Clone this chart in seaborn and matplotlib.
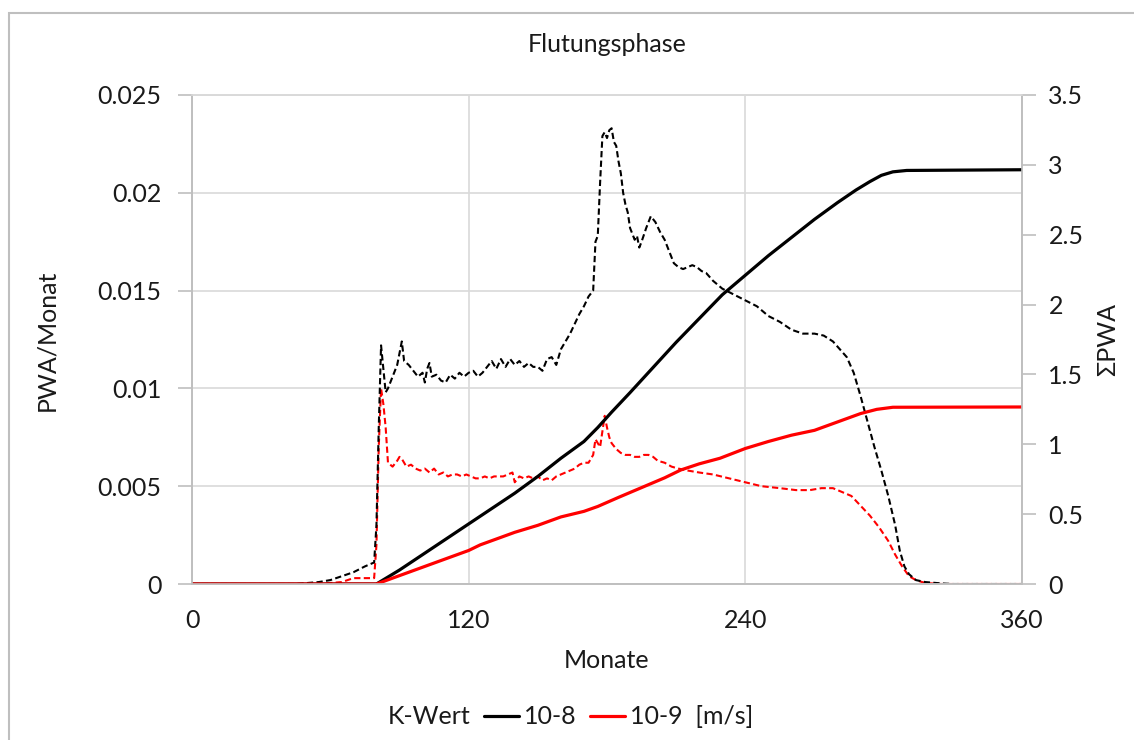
import numpy as np
import pandas as pd
import matplotlib
matplotlib.use("Agg")
import matplotlib.pyplot as plt
import seaborn as sns
from matplotlib.lines import Line2D
from matplotlib.patches import Rectangle

# ---------------- data ----------------
# PWA/Monat, K = 1e-8 (dashed black, left axis)
m_b8 = [0, 45, 50, 55, 60, 65, 70, 75, 79, 80, 81, 82, 83, 84, 85, 87, 89, 90, 91, 92, 94, 96, 98,
        100, 101, 102, 103, 104, 106, 108, 110, 112, 114, 116, 118, 120, 122, 124, 126, 128, 130,
        132, 134, 136, 138, 140, 142, 144, 146, 148, 150, 152, 154, 156, 158, 160, 162, 164, 166,
        168, 170, 172, 174, 175, 176, 177, 178, 179, 180, 181, 182, 183, 184, 185, 186, 187, 188,
        189, 190, 191, 192, 193, 194, 195, 197, 199, 201, 203, 205, 207, 209, 211, 213, 215, 217,
        219, 221, 223, 226, 230, 235, 240, 245, 250, 255, 260, 265, 270, 274, 278, 281, 284, 287,
        290, 293, 296, 299, 302, 305, 307, 309, 311, 314, 318, 325, 330, 360]
pwa_8 = [0, 0, 0.00005, 0.0001, 0.0002, 0.0004, 0.0006, 0.0009, 0.0011, 0.0030, 0.0080, 0.0122,
         0.0110, 0.0098, 0.0100, 0.0106, 0.0112, 0.0118, 0.0124, 0.0114, 0.0112, 0.0109, 0.0106,
         0.0108, 0.0103, 0.0110, 0.0113, 0.0106, 0.0107, 0.0104, 0.0103, 0.0107, 0.0105, 0.0108,
         0.0106, 0.0108, 0.0109, 0.0106, 0.0108, 0.0111, 0.0114, 0.0110, 0.0115, 0.0111, 0.0115,
         0.0112, 0.0114, 0.0111, 0.0113, 0.0111, 0.0111, 0.0109, 0.0115, 0.0116, 0.0112, 0.0120,
         0.0124, 0.0128, 0.0133, 0.0138, 0.0142, 0.0147, 0.0150, 0.0175, 0.0178, 0.0205, 0.0229,
         0.0231, 0.0228, 0.0232, 0.0233, 0.0226, 0.0224, 0.0216, 0.0210, 0.0200, 0.0194, 0.0190,
         0.0182, 0.0179, 0.0176, 0.0178, 0.0172, 0.0175, 0.0182, 0.0188, 0.0185, 0.0180, 0.0176,
         0.0170, 0.0164, 0.0162, 0.0161, 0.0162, 0.0163, 0.0162, 0.0160, 0.0159, 0.0155, 0.0151,
         0.0148, 0.0145, 0.0142, 0.0137, 0.0134, 0.0130, 0.0128, 0.0128, 0.0127, 0.0124, 0.0120,
         0.0116, 0.0108, 0.0096, 0.0083, 0.0070, 0.0058, 0.0045, 0.0030, 0.0017, 0.0009, 0.0005,
         0.0002, 0.0001, 0.00003, 0, 0]

# PWA/Monat, K = 1e-9 (dashed red, left axis)
m_r9 = [0, 55, 60, 65, 70, 79, 80, 81, 82, 83, 84, 85, 86, 87, 89, 90, 91, 93, 95, 97, 99, 101,
        103, 105, 107, 109, 111, 113, 115, 117, 119, 121, 123, 125, 127, 129, 131, 133, 135, 137,
        139, 140, 142, 144, 146, 148, 150, 152, 154, 156, 158, 160, 162, 164, 166, 168, 170, 172,
        174, 175, 176, 177, 178, 179, 180, 181, 182, 184, 186, 188, 190, 192, 194, 196, 198, 200,
        202, 205, 208, 211, 215, 220, 226, 233, 240, 247, 255, 262, 268, 273, 278, 282, 286, 290,
        294, 298, 302, 305, 308, 311, 314, 318, 325, 360]
pwa_9 = [0, 0, 0.00005, 0.0001, 0.0003, 0.0003, 0.0020, 0.0070, 0.0100, 0.0092, 0.0080, 0.0062,
         0.0061, 0.0060, 0.0063, 0.0065, 0.0064, 0.0060, 0.0061, 0.0059, 0.0058, 0.0059, 0.0057,
         0.0059, 0.0056, 0.0057, 0.0055, 0.0056, 0.0056, 0.0055, 0.0056, 0.0055, 0.0054, 0.0054,
         0.0055, 0.0054, 0.0055, 0.0055, 0.0055, 0.0056, 0.0057, 0.0052, 0.0055, 0.0054, 0.0055,
         0.0054, 0.0055, 0.0053, 0.0054, 0.0053, 0.0055, 0.0056, 0.0057, 0.0058, 0.0059, 0.0061,
         0.0062, 0.0062, 0.0066, 0.0074, 0.0072, 0.0070, 0.0078, 0.0086, 0.0080, 0.0075, 0.0072,
         0.0069, 0.0067, 0.0066, 0.0066, 0.0065, 0.0065, 0.0066, 0.0066, 0.0065, 0.0063, 0.0062,
         0.0060, 0.0059, 0.0058, 0.0057, 0.0056, 0.0054, 0.0052, 0.0050, 0.0049, 0.0048, 0.0048,
         0.0049, 0.0049, 0.0047, 0.0045, 0.0040, 0.0035, 0.0029, 0.0022, 0.0015, 0.0009, 0.0004,
         0.0002, 0.00005, 0, 0]

# Sum PWA, K = 1e-8 (solid black, right axis)
m_s8 = [0, 80, 90, 100, 110, 120, 130, 140, 150, 160, 170, 176, 182, 190, 200, 210, 220, 230,
        240, 250, 260, 270, 280, 288, 294, 299, 304, 310, 360]
sum_8 = [0, 0, 0.10, 0.21, 0.32, 0.43, 0.54, 0.65, 0.77, 0.90, 1.02, 1.12, 1.23, 1.37, 1.55,
         1.73, 1.90, 2.07, 2.21, 2.35, 2.48, 2.61, 2.73, 2.82, 2.88, 2.925, 2.95, 2.96, 2.965]

# Sum PWA, K = 1e-9 (solid red, right axis)
m_s9 = [0, 80, 90, 100, 110, 120, 125, 140, 150, 160, 170, 176, 185, 195, 205, 212, 220, 229,
        240, 250, 260, 270, 280, 290, 297, 304, 360]
sum_9 = [0, 0, 0.06, 0.12, 0.18, 0.24, 0.28, 0.37, 0.42, 0.48, 0.52, 0.555, 0.62, 0.69, 0.76,
         0.816, 0.86, 0.90, 0.97, 1.02, 1.065, 1.10, 1.16, 1.22, 1.25, 1.265, 1.267]

x_ticks = [0, 120, 240, 360]
y_left_ticks = [0, 0.005, 0.01, 0.015, 0.02, 0.025]
y_left_labels = ["0", "0.005", "0.01", "0.015", "0.02", "0.025"]
y_right_ticks = [0, 0.5, 1, 1.5, 2, 2.5, 3, 3.5]
y_right_labels = ["0", "0.5", "1", "1.5", "2", "2.5", "3", "3.5"]

# ---------------- style ----------------
sns.set_theme(style="white")
plt.rcParams["font.family"] = ["Lato", "DejaVu Sans"]
FS = 18
TXT = "#1a1a1a"
GRID = "#d9d9d9"
AXC = "#bfbfbf"

fig = plt.figure(figsize=(11.34, 7.40), dpi=100)
ax = fig.add_axes([192 / 1134, 1 - 584 / 740, (1022 - 192) / 1134, (584 - 95) / 740])
ax2 = ax.twinx()

dash = (0, (3.0, 1.6))
df_r9 = pd.DataFrame({"m": m_r9, "v": pwa_9})
df_b8 = pd.DataFrame({"m": m_b8, "v": pwa_8})
sns.lineplot(data=df_r9, x="m", y="v", ax=ax, color="#ff0000", lw=1.5, linestyle=dash)
sns.lineplot(data=df_b8, x="m", y="v", ax=ax, color="black", lw=1.5, linestyle=dash)

df_s8 = pd.DataFrame({"m": m_s8, "v": sum_8})
df_s9 = pd.DataFrame({"m": m_s9, "v": sum_9})
sns.lineplot(data=df_s8, x="m", y="v", ax=ax2, color="black", lw=2.3)
sns.lineplot(data=df_s9, x="m", y="v", ax=ax2, color="#ff0000", lw=2.3)

ax.set_xlim(0, 360)
ax.set_ylim(0, 0.025)
ax2.set_ylim(0, 3.5)
ax.set_xticks(x_ticks)
ax.set_xticklabels([str(t) for t in x_ticks])
ax.set_yticks(y_left_ticks)
ax.set_yticklabels(y_left_labels)
ax2.set_yticks(y_right_ticks)
ax2.set_yticklabels(y_right_labels)

ax.grid(True, axis="both", color=GRID, lw=1.2)
ax2.grid(False)
ax.set_axisbelow(True)

for a in (ax, ax2):
    for s in a.spines.values():
        s.set_color(GRID)
        s.set_linewidth(1.2)
    a.spines["left"].set_color(AXC)
    a.spines["right"].set_color(AXC)
    a.spines["bottom"].set_color(AXC)

ax.tick_params(axis="y", which="both", left=True, length=10, width=1.2, color=AXC,
               labelsize=FS, labelcolor=TXT, pad=12)
ax.tick_params(axis="x", bottom=False, labelsize=FS, labelcolor=TXT, pad=12)
ax2.tick_params(axis="y", right=True, length=10, width=1.2, color=AXC,
                labelsize=FS, labelcolor=TXT, pad=9)

ax.set_xlabel("Monate", fontsize=FS, color=TXT, labelpad=12)
ax.set_ylabel("")
ax2.set_ylabel("")
fig.text(47 / 1134, 1 - 340 / 740, "PWA/Monat", rotation=90, ha="center", va="center",
         fontsize=FS, color=TXT)
fig.text(1108 / 1134, 1 - 340 / 740, "ΣPWA", rotation=90, ha="center", va="center",
         fontsize=FS, color=TXT)

fig.text(607 / 1134, 1 - 45 / 740, "Flutungsphase", ha="center", va="center",
         fontsize=FS, color=TXT)

# legend
fig.text(470 / 1134, 1 - 717 / 740, "K-Wert", ha="right", va="center", fontsize=FS, color=TXT)
handles = [Line2D([], [], color="black", lw=2.3), Line2D([], [], color="#ff0000", lw=2.3)]
fig.legend(handles, ["10-8", "10-9  [m/s]"], loc="center left",
           bbox_to_anchor=(484 / 1134, 1 - 717 / 740), ncol=2, frameon=False,
           fontsize=FS, handlelength=1.4, handletextpad=0.2, columnspacing=0.55,
           borderaxespad=0, borderpad=0, labelcolor=TXT)

# chart border (left and top edges visible)
fig.patches.append(Rectangle((9 / 1134, -0.1), 1.2, 1 - 13 / 740 + 0.1,
                             transform=fig.transFigure, fill=False,
                             edgecolor="#bfbfbf", lw=1.5, zorder=0))

fig.savefig("out.png", dpi=100)
